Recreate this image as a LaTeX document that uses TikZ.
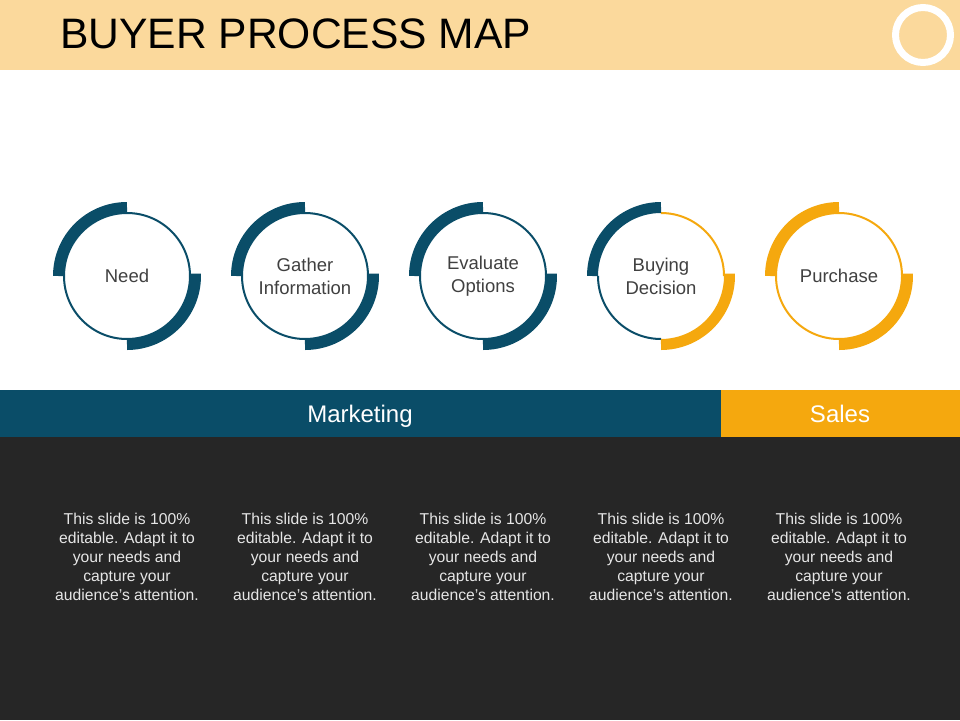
\documentclass[tikz,border=0pt]{standalone}
\usepackage{fontspec}
\setmainfont{Liberation Sans}
\definecolor{teal}{HTML}{0A4D68}
\definecolor{orng}{HTML}{F5A80E}
\definecolor{hdr}{HTML}{FBD99C}
\definecolor{dark}{HTML}{262626}
\definecolor{lbl}{HTML}{404040}
\definecolor{body}{HTML}{E6E6E6}
\begin{document}
\begin{tikzpicture}[x=1pt,y=-1pt,
  thin/.style={line width=2pt},
  thick/.style={line width=11pt},
  lab/.style={align=center,text=lbl,font=\fontsize{18.5}{23}\selectfont},
  bodytxt/.style={align=center,text=body,font=\fontsize{15.7}{19}\selectfont},
  bartxt/.style={text=white,anchor=base,font=\fontsize{24}{28}\selectfont}]
\useasboundingbox (0,0) rectangle (960,720);
\fill[white] (0,0) rectangle (960,720);
% header
\fill[hdr] (0,0) rectangle (960,70);
\node[anchor=base west,inner sep=0pt,font=\fontsize{42.6}{48}\selectfont] (title) at (60,48) {BUYER PROCESS MAP};
\draw[white,line width=7pt] (923,35) circle[radius=27.5];
% bars
\fill[teal] (0,390) rectangle (721,437);
\fill[orng] (721,390) rectangle (960,437);
\fill[dark] (0,437) rectangle (960,720);
\node[bartxt] (mkt) at (360,422) {Marketing};
\node[bartxt] (sales) at (840,422) {Sales};
% circles
\foreach \cx/\txt/\c in {127/Need/1,305/{Gather\\Information}/2,483/{Evaluate\\Options}/3,661/{Buying\\Decision}/4,839/Purchase/5}{
  \node[lab] (c\c) at (\cx,276) {\txt};
  \node[bodytxt] (t\c) at (\cx,557) {This slide is 100\%\\editable. Adapt it to\\your needs and\\capture your\\audience's attention.};
}
% circle 1-3 (y axis flipped: 270 = top, 180 = left, 90 = bottom)
\foreach \cx in {127,305,483}{
  \draw[teal,thin] (\cx,276) circle[radius=63];
  \draw[teal,thick] (\cx,276) ++(180:68.5) arc[start angle=180,end angle=270,radius=68.5];
  \draw[teal,thick] (\cx,276) ++(-2:68.5) arc[start angle=-2,end angle=90,radius=68.5];
}
% circle 4
\draw[teal,thin] (661,276) ++(90:63) arc[start angle=90,end angle=180,radius=63];
\draw[orng,thin] (661,276) ++(270:63) arc[start angle=270,end angle=360,radius=63];
\draw[teal,thick] (661,276) ++(180:68.5) arc[start angle=180,end angle=270,radius=68.5];
\draw[orng,thick] (661,276) ++(-2:68.5) arc[start angle=-2,end angle=90,radius=68.5];
% circle 5
\draw[orng,thin] (839,276) circle[radius=63];
\draw[orng,thick] (839,276) ++(180:68.5) arc[start angle=180,end angle=270,radius=68.5];
\draw[orng,thick] (839,276) ++(-2:68.5) arc[start angle=-2,end angle=90,radius=68.5];
\end{tikzpicture}
\end{document}
